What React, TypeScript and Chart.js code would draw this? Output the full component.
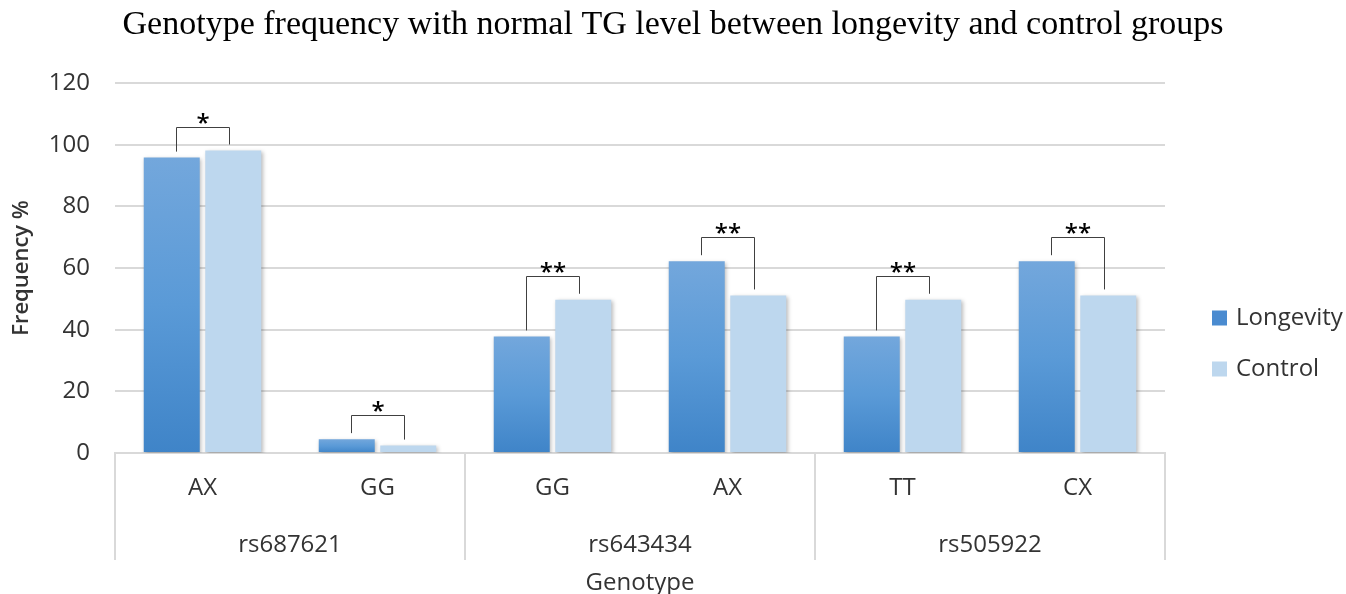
import React, { useEffect, useRef } from 'react';
import { Chart, registerables } from 'chart.js';

Chart.register(...registerables);

const chartTitle = 'Genotype frequency with normal TG level between longevity and control groups';
const categories = ['AX', 'GG', 'GG', 'AX', 'TT', 'CX'];
const groups = ['rs687621', 'rs643434', 'rs505922'];
const groupSpans = [2, 2, 2];
const seriesNames = ['Longevity', 'Control'];
const longevity = [95.8, 4.5, 37.8, 62.2, 37.8, 62.2];
const control = [98.1, 2.4, 49.7, 51.1, 49.7, 51.1];
const significance = ['*', '*', '**', '**', '**', '**'];
const yMin = 0;
const yMax = 120;
const yStep = 20;

const SANS = '"Open Sans", "Liberation Sans", sans-serif';
const SERIF = '"Liberation Serif", "Times New Roman", serif';
const TEXT = '#333333';
const GRID = '#d9d9d9';
const LONG_SWATCH = '#4a8bd0';
const CONTROL_COLOR = '#bdd7ee';

const longGradient = (ctx: any) => {
  const chart = ctx.chart;
  const scales = chart.scales;
  if (ctx.type !== 'data' || !scales || !scales.y) return '#5b9bd5';
  const v = ctx.raw as number;
  const yTop = scales.y.getPixelForValue(v);
  const yBot = scales.y.getPixelForValue(0);
  if (!isFinite(yTop) || !isFinite(yBot) || Math.abs(yBot - yTop) < 1) return '#5b9bd5';
  const g = chart.ctx.createLinearGradient(0, yTop, 0, yBot);
  g.addColorStop(0, '#73a7dc');
  g.addColorStop(0.5, '#5a9ad7');
  g.addColorStop(1, '#3f84c8');
  return g;
};

const shadowPlugin = {
  id: 'barShadow',
  beforeDatasetsDraw(chart: any) {
    const c = chart.ctx;
    c.save();
    c.shadowColor = 'rgba(0,0,0,0.28)';
    c.shadowBlur = 4;
    c.shadowOffsetX = 1.5;
    c.shadowOffsetY = 1.5;
  },
  afterDatasetsDraw(chart: any) {
    chart.ctx.restore();
  },
};

const bracketPlugin = {
  id: 'brackets',
  afterDatasetsDraw(chart: any) {
    const c = chart.ctx;
    const m0 = chart.getDatasetMeta(0).data;
    const m1 = chart.getDatasetMeta(1).data;
    c.save();
    c.strokeStyle = '#404040';
    c.lineWidth = 1;
    c.fillStyle = '#000';
    c.font = `600 24px ${SANS}`;
    c.textAlign = 'center';
    c.textBaseline = 'alphabetic';
    for (let j = 0; j < significance.length; j++) {
      const a = m0[j];
      const b = m1[j];
      if (!a || !b) continue;
      const x0 = Math.round(a.x + 4) + 0.5;
      const x1 = Math.round(b.x - 4) + 0.5;
      const top = Math.round(Math.min(a.y, b.y) - 24) + 0.5;
      c.beginPath();
      c.moveTo(x0, a.y - 6);
      c.lineTo(x0, top);
      c.lineTo(x1, top);
      c.lineTo(x1, b.y - 6);
      c.stroke();
      c.fillText(significance[j], (x0 + x1) / 2, top + 3);
    }
    c.restore();
  },
};

const groupAxisPlugin = {
  id: 'groupAxis',
  afterDraw(chart: any) {
    const c = chart.ctx;
    const xs = chart.scales.x;
    const area = chart.chartArea;
    const half = (xs.getPixelForValue(1) - xs.getPixelForValue(0)) / 2;
    c.save();
    c.strokeStyle = GRID;
    c.lineWidth = 2;
    c.fillStyle = TEXT;
    c.font = `24px ${SANS}`;
    c.textAlign = 'center';
    c.textBaseline = 'middle';
    let idx = 0;
    const lineBottom = area.bottom + 107;
    const drawSep = (x: number) => {
      c.beginPath();
      c.moveTo(x, area.bottom);
      c.lineTo(x, lineBottom);
      c.stroke();
    };
    drawSep(xs.getPixelForValue(0) - half);
    groups.forEach((g, gi) => {
      const start = xs.getPixelForValue(idx) - half;
      const end = xs.getPixelForValue(idx + groupSpans[gi] - 1) + half;
      c.fillText(g, (start + end) / 2, area.bottom + 92);
      drawSep(end);
      idx += groupSpans[gi];
    });
    c.restore();
  },
};

const legendPlugin = {
  id: 'customLegend',
  afterDraw(chart: any) {
    const c = chart.ctx;
    const area = chart.chartArea;
    const colors = [LONG_SWATCH, CONTROL_COLOR];
    c.save();
    c.font = `24px ${SANS}`;
    c.textAlign = 'left';
    c.textBaseline = 'middle';
    seriesNames.forEach((name, i) => {
      const cy = area.bottom - 135 + i * 51;
      const sx = area.right + 47;
      c.fillStyle = colors[i];
      c.fillRect(sx, cy - 7.5, 15, 15);
      c.fillStyle = TEXT;
      c.fillText(name, sx + 24, cy);
    });
    c.restore();
  },
};

export default function App() {
  const ref = useRef<HTMLCanvasElement>(null);
  useEffect(() => {
    const canvas = ref.current;
    if (!canvas) return;
    Chart.defaults.font.family = SANS;
    const chart = new Chart(canvas, {
      type: 'bar',
      data: {
        labels: categories,
        datasets: [
          {
            label: seriesNames[0],
            data: longevity,
            backgroundColor: longGradient,
            borderWidth: 0,
            categoryPercentage: 0.703,
            barPercentage: 0.91,
          },
          {
            label: seriesNames[1],
            data: control,
            backgroundColor: CONTROL_COLOR,
            borderWidth: 0,
            categoryPercentage: 0.703,
            barPercentage: 0.91,
          },
        ],
      },
      options: {
        responsive: false,
        animation: false,
        layout: { padding: 0 },
        plugins: {
          legend: { display: false },
          tooltip: { enabled: false },
          title: {
            display: true,
            text: chartTitle,
            color: '#000',
            font: { family: SERIF, size: 34, weight: 'normal' },
            padding: { top: 5, bottom: 37.2 },
          },
        },
        scales: {
          x: {
            type: 'category',
            grid: { display: false, drawTicks: false },
            border: { display: true, color: GRID, width: 2 },
            ticks: {
              color: TEXT,
              font: { family: SANS, size: 24 },
              padding: 21,
              maxRotation: 0,
              autoSkip: false,
            },
            title: {
              display: true,
              text: 'Genotype',
              color: TEXT,
              font: { family: SANS, size: 24 },
              padding: { top: 0, bottom: -4 },
            },
            afterFit: (s: any) => {
              s.height = 141;
            },
          },
          y: {
            min: yMin,
            max: yMax,
            ticks: {
              stepSize: yStep,
              color: TEXT,
              font: { family: SANS, size: 24 },
              padding: 25,
            },
            grid: { color: GRID, lineWidth: 2, drawTicks: false },
            border: { display: false },
            title: {
              display: true,
              text: 'Frequency %',
              color: TEXT,
              font: { family: SANS, size: 22, weight: '600' },
              padding: { top: 9, bottom: 0 },
            },
            afterFit: (s: any) => {
              s.width = 115;
            },
          },
          yRight: {
            position: 'right',
            display: true,
            grid: { display: false, drawTicks: false },
            border: { display: false },
            ticks: { display: false },
            afterFit: (s: any) => {
              s.width = 181;
            },
          },
        },
      } as any,
      plugins: [shadowPlugin, bracketPlugin, groupAxisPlugin, legendPlugin],
    });
    return () => chart.destroy();
  }, []);
  return (
    <div style={{ position: 'absolute', left: 0, top: 0, width: 1346, height: 594, background: '#fff' }}>
      <canvas ref={ref} width={1346} height={594} style={{ display: 'block' }} />
    </div>
  );
}
